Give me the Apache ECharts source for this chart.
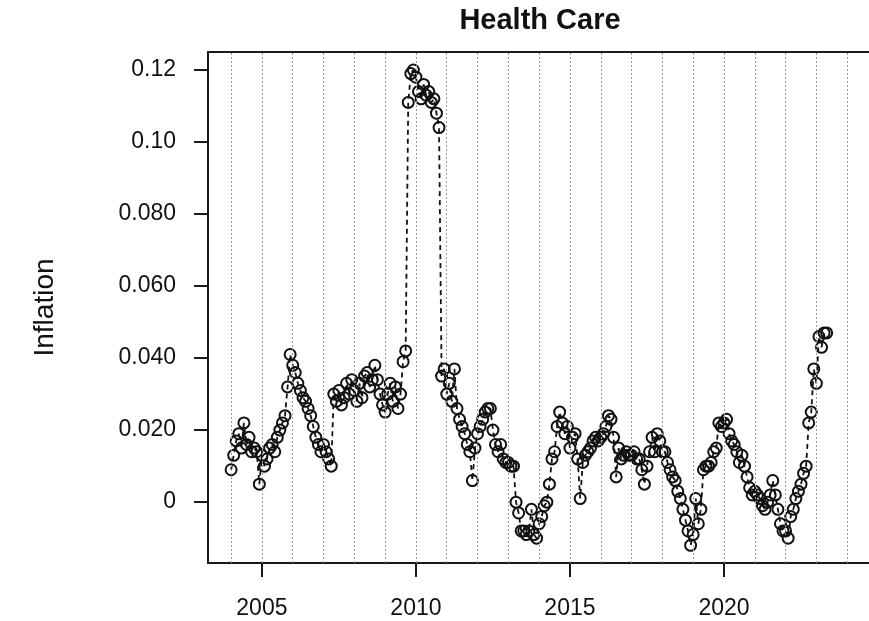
<!DOCTYPE html>
<html>
<head>
<meta charset="utf-8">
<script src="https://cdn.jsdelivr.net/npm/echarts@6/dist/echarts.min.js"></script>
<style>
html,body{margin:0;padding:0;background:#fff;}
#chart{width:869px;height:621px;}
</style>
</head>
<body>
<div id="chart"></div>
<script>
// Monthly inflation, starting January 2004
const startYear = 2004;
const inflation = [
  0.009, 0.013, 0.017, 0.019, 0.015, 0.022, 0.016, 0.018, 0.014, 0.015, 0.014, 0.005, // 2004
  0.013, 0.010, 0.012, 0.015, 0.016, 0.014, 0.018, 0.020, 0.022, 0.024, 0.032, 0.041, // 2005
  0.038, 0.036, 0.033, 0.031, 0.029, 0.028, 0.026, 0.024, 0.021, 0.018, 0.016, 0.014, // 2006
  0.016, 0.014, 0.012, 0.010, 0.030, 0.028, 0.031, 0.027, 0.029, 0.033, 0.030, 0.034, // 2007
  0.031, 0.028, 0.033, 0.029, 0.035, 0.036, 0.032, 0.034, 0.038, 0.034, 0.030, 0.027, // 2008
  0.025, 0.030, 0.033, 0.028, 0.032, 0.026, 0.030, 0.039, 0.042, 0.111, 0.119, 0.120, // 2009
  0.118, 0.114, 0.112, 0.116, 0.113, 0.114, 0.111, 0.112, 0.108, 0.104, 0.035, 0.037, // 2010
  0.030, 0.033, 0.028, 0.037, 0.026, 0.023, 0.021, 0.019, 0.016, 0.014, 0.006, 0.015, // 2011
  0.019, 0.021, 0.023, 0.025, 0.026, 0.026, 0.020, 0.016, 0.014, 0.016, 0.012, 0.011, // 2012
  0.011, 0.010, 0.010, 0.000, -0.003, -0.008, -0.008, -0.009, -0.008, -0.002, -0.009, -0.010, // 2013
  -0.006, -0.004, -0.001, 0.000, 0.005, 0.012, 0.014, 0.021, 0.025, 0.022, 0.019, 0.021, // 2014
  0.015, 0.018, 0.019, 0.012, 0.001, 0.011, 0.013, 0.014, 0.015, 0.017, 0.018, 0.017, // 2015
  0.018, 0.019, 0.021, 0.024, 0.023, 0.018, 0.007, 0.015, 0.012, 0.013, 0.014, 0.013, // 2016
  0.013, 0.014, 0.012, 0.012, 0.009, 0.005, 0.010, 0.014, 0.018, 0.014, 0.019, 0.017, // 2017
  0.014, 0.014, 0.011, 0.009, 0.007, 0.006, 0.003, 0.001, -0.002, -0.005, -0.008, -0.012, // 2018
  -0.009, 0.001, -0.006, -0.002, 0.009, 0.010, 0.010, 0.011, 0.014, 0.015, 0.022, 0.021, // 2019
  0.022, 0.023, 0.019, 0.017, 0.016, 0.014, 0.011, 0.013, 0.010, 0.007, 0.004, 0.002, // 2020
  0.003, 0.002, 0.001, -0.001, -0.002, 0.000, 0.002, 0.006, 0.002, -0.002, -0.006, -0.008, // 2021
  -0.008, -0.010, -0.004, -0.002, 0.001, 0.003, 0.005, 0.008, 0.010, 0.022, 0.025, 0.037, // 2022
  0.033, 0.046, 0.043, 0.047, 0.047 // 2023
];
const xTickValues = [2005, 2010, 2015, 2020];
const yTickValues = [0, 0.02, 0.04, 0.06, 0.08, 0.10, 0.12];
const yTickLabels = ['0', '0.020', '0.040', '0.060', '0.080', '0.10', '0.12'];
const gridYears = [2004, 2005, 2006, 2007, 2008, 2009, 2010, 2011, 2012, 2013, 2014,
  2015, 2016, 2017, 2018, 2019, 2020, 2021, 2022, 2023, 2024];

const seriesData = inflation.map((v, i) => [startYear + i / 12, v]);
const FONT = "'Liberation Sans', Arial, Helvetica, sans-serif";
const AXIS_COLOR = '#1a1a1a';

const chart = echarts.init(document.getElementById('chart'), null, {renderer: 'canvas'});
chart.setOption({
  animation: false,
  backgroundColor: '#fff',
  grid: {
    left: 208, top: 52, width: 670, height: 511,
    outerBoundsMode: 'none', containLabel: false, show: false
  },
  graphic: [{
    type: 'text', x: 540, y: 21,
    style: {text: 'Health Care', font: 'bold 29px ' + FONT, fill: '#111',
      textAlign: 'center', textVerticalAlign: 'middle'}
  }],
  xAxis: [
    {
      type: 'value', min: 2003.25, max: 2025.0, position: 'bottom',
      axisLine: {show: true, onZero: false, lineStyle: {color: AXIS_COLOR, width: 2}},
      axisTick: {show: true, customValues: xTickValues, length: 14, lineStyle: {color: AXIS_COLOR, width: 2}},
      axisLabel: {show: true, customValues: xTickValues, fontSize: 23, fontFamily: FONT, color: '#111', margin: 34,
        formatter: function (val) { return String(Math.round(val)); }},
      splitLine: {show: false}
    },
    {
      type: 'value', min: 2003.25, max: 2025.0, position: 'top',
      axisLine: {show: true, onZero: false, lineStyle: {color: AXIS_COLOR, width: 2}},
      axisTick: {show: false}, axisLabel: {show: false}, splitLine: {show: false}
    }
  ],
  yAxis: {
    type: 'value', min: -0.0169, max: 0.125,
    name: 'Inflation', nameLocation: 'middle', nameRotate: 90, nameGap: 149,
    nameTextStyle: {fontSize: 28, fontFamily: FONT, color: '#111'},
    axisLine: {show: true, onZero: false, lineStyle: {color: AXIS_COLOR, width: 2}},
    axisTick: {show: true, customValues: yTickValues, length: 14, lineStyle: {color: AXIS_COLOR, width: 2}},
    axisLabel: {
      show: true, customValues: yTickValues, fontSize: 23, fontFamily: FONT, color: '#111', margin: 32,
      formatter: function (val) {
        const idx = yTickValues.findIndex(t => Math.abs(t - val) < 1e-9);
        return idx >= 0 ? yTickLabels[idx] : '';
      }
    },
    splitLine: {show: false}
  },
  series: [
    {
      type: 'line', data: [], z: 1, silent: true, xAxisIndex: 0,
      markLine: {
        silent: true, symbol: ['none', 'none'], label: {show: false},
        lineStyle: {color: '#9a9a9a', type: [2, 2], width: 1},
        emphasis: {disabled: true},
        data: gridYears.map(y => ({xAxis: y}))
      }
    },
    {
      type: 'line', data: seriesData, z: 3, xAxisIndex: 0,
      symbol: 'circle', symbolSize: 11, showAllSymbol: true,
      itemStyle: {color: 'rgba(0,0,0,0)', borderColor: '#111', borderWidth: 2},
      lineStyle: {color: '#111', width: 1.8, type: [5, 4]}
    }
  ]
});
</script>
</body>
</html>
